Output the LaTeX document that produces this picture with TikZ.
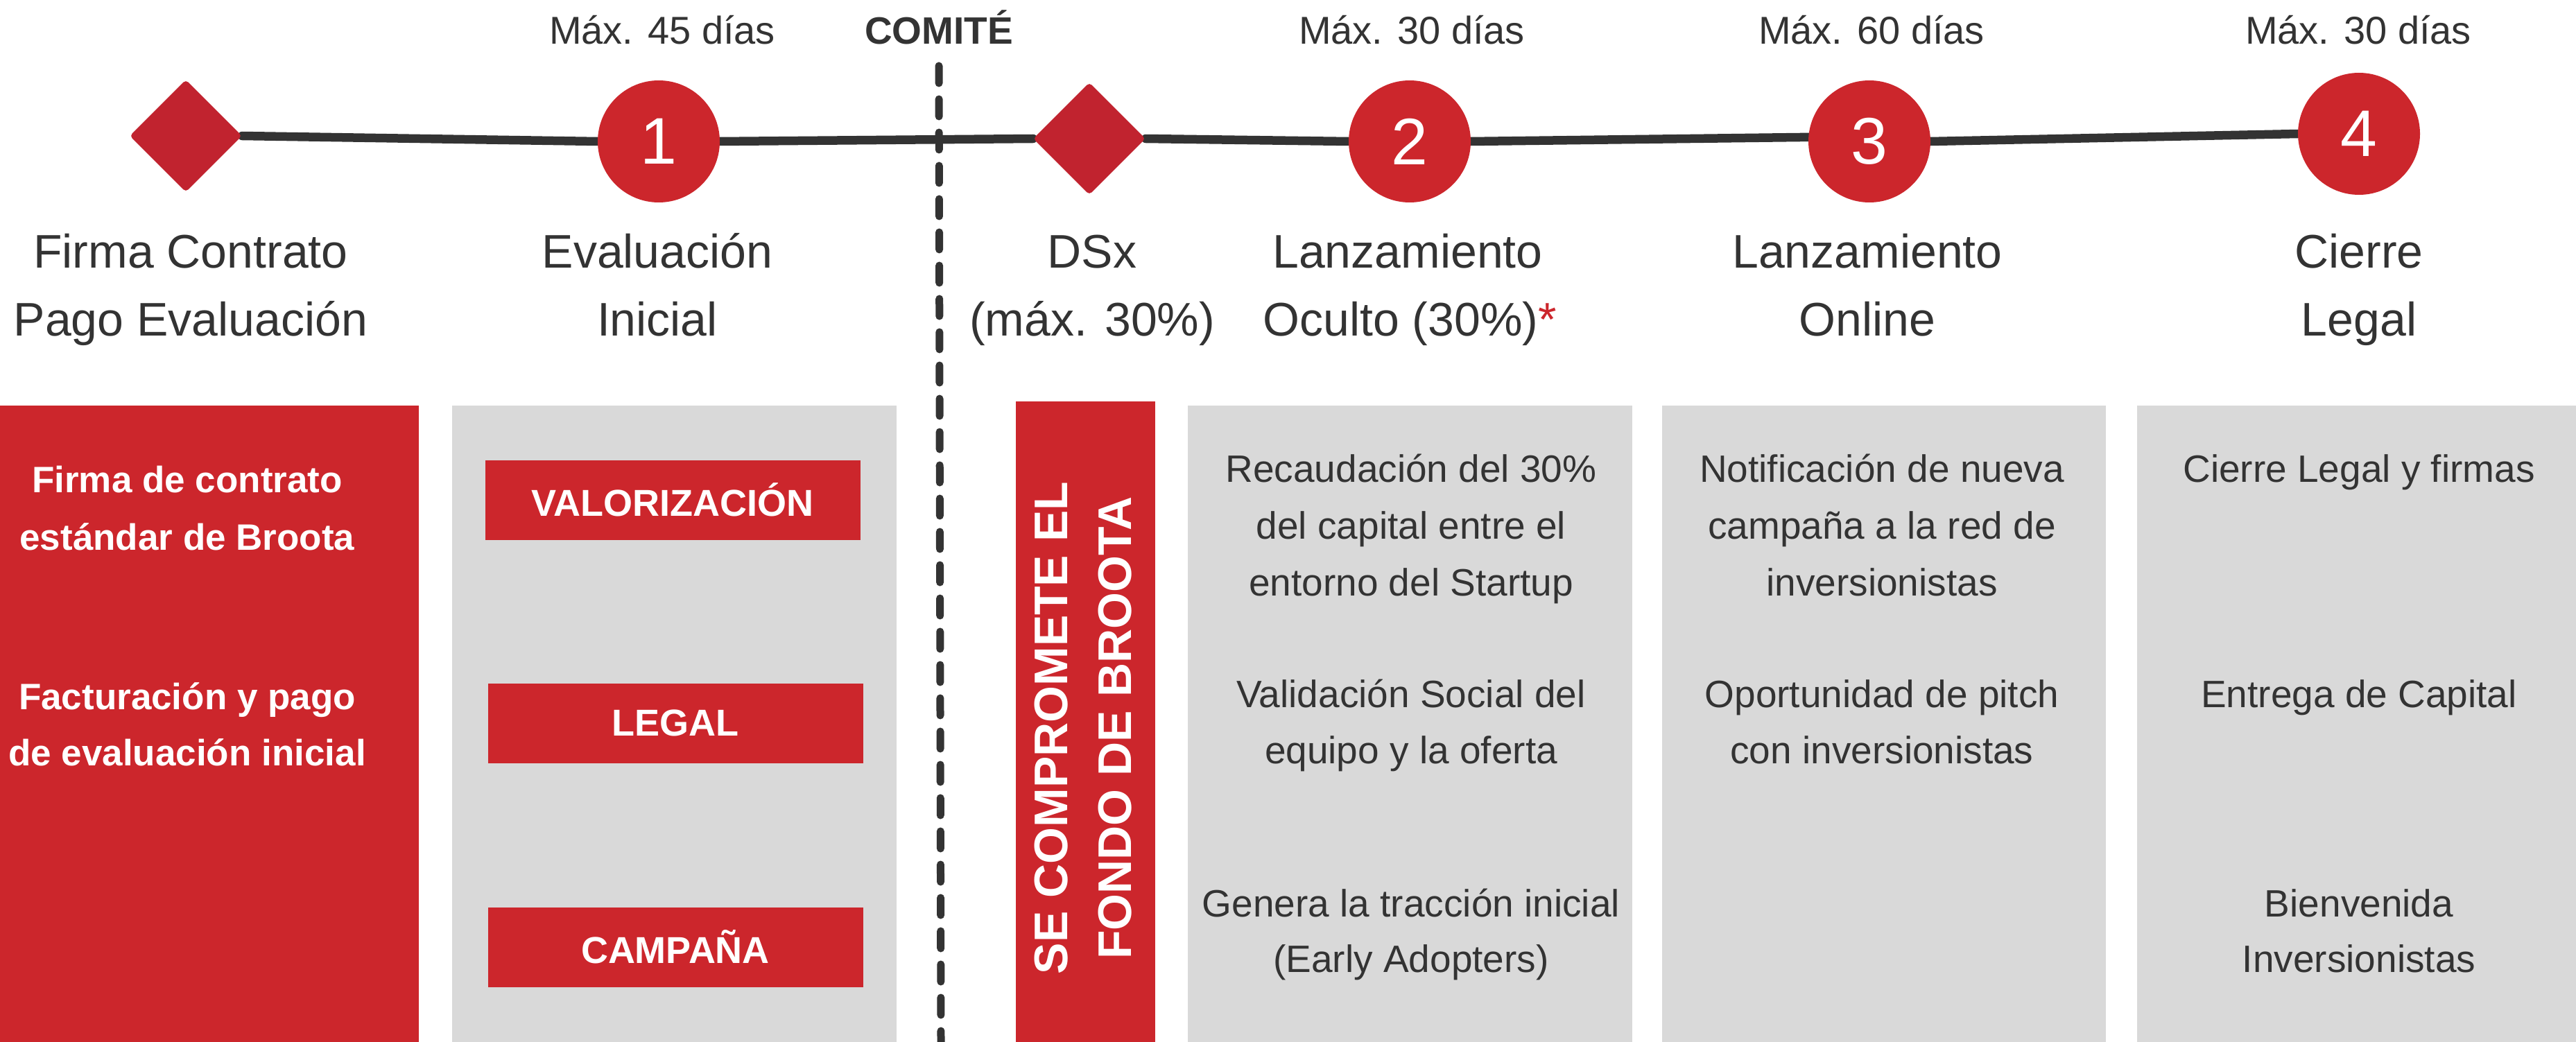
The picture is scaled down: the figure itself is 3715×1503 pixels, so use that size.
\documentclass[tikz,border=0pt]{standalone}
\usepackage{fontspec}
\setmainfont{Liberation Sans}
\usetikzlibrary{shapes.geometric,backgrounds}
\definecolor{bred}{HTML}{CC262C}
\definecolor{dred}{HTML}{C1232F}
\definecolor{pgray}{HTML}{D9D9D9}
\definecolor{ink}{HTML}{333333}
\begin{document}
\begin{tikzpicture}[x=1pt,y=-1pt,
  dia/.style={diamond, fill=dred, minimum width=162pt, minimum height=162pt, inner sep=0pt, rounded corners=5pt},
  stepc/.style={circle, fill=bred, minimum size=176pt, inner sep=0pt, text=white, font=\fontsize{95}{95}\selectfont},
  tl/.style={draw=ink, line width=12.5pt, line cap=round},
  days/.style={anchor=base, inner sep=0pt, text=ink, font=\fontsize{56}{56}\selectfont},
  head/.style={anchor=base, inner sep=0pt, text=ink, font=\fontsize{68}{68}\selectfont},
  body/.style={anchor=base, inner sep=0pt, text=ink, font=\fontsize{55}{55}\selectfont},
  wbold/.style={anchor=base, inner sep=0pt, text=white, font=\fontsize{53}{53}\selectfont\bfseries},
  tag/.style={fill=bred, text=white, font=\fontsize{54}{54}\selectfont\bfseries, minimum width=541pt, minimum height=115pt, inner sep=0pt},
  panel/.style={fill=pgray},
  redpanel/.style={fill=bred}]
\useasboundingbox (0,0) rectangle (3715,1503);

% panels
\fill[redpanel] (0,585) rectangle (604,1503);
\fill[panel] (652,585) rectangle (1293,1503);
\fill[redpanel] (1465,579) rectangle (1666,1503);
\fill[panel] (1713,585) rectangle (2354,1503);
\fill[panel] (2397,585) rectangle (3037,1503);
\fill[panel] (3082,585) rectangle (3715,1503);

% timeline nodes
\node[dia] (d1) at (268,196) {};
\node[stepc] (c1) at (950,204) {1};
\node[dia] (d2) at (1571,200) {};
\node[stepc] (c2) at (2033,204) {2};
\node[stepc] (c3) at (2696,204) {3};
\node[stepc] (c4) at (3402,193) {4};

% committee divider
\coordinate (dvt) at (1354,95);
\coordinate (dvb) at (1357,1503);
\begin{scope}[on background layer]
\draw[tl] (d1.east) -- (c1.west);
\draw[tl] (c1.east) -- (d2.west);
\draw[tl] (d2.east) -- (c2.west);
\draw[tl] (c2.east) -- (c3.176);
\draw[tl] (c3.east) -- (c4.west);
\end{scope}
\draw[draw=ink, line width=11pt, line cap=round, dash pattern=on 25pt off 23pt] (dvt) -- (dvb);

% top labels
\node[days] (m1) at (955,64) {Máx. 45 días};
\node[days, font=\fontsize{55}{55}\selectfont\bfseries] (com) at (1354,64) {COMITÉ};
\node[days] (m2) at (2036,64) {Máx. 30 días};
\node[days] (m3) at (2699,64) {Máx. 60 días};
\node[days] (m4) at (3401,64) {Máx. 30 días};

% headings
\node[head] (h1a) at (275,387) {Firma Contrato};
\node[head] (h1b) at (275,484) {Pago Evaluación};
\node[head] (h2a) at (948,387) {Evaluación};
\node[head] (h2b) at (948,484) {Inicial};
\node[head] (h3a) at (1575,387) {DSx};
\node[head] (h3b) at (1575,484) {(máx. 30\%)};
\node[head] (h4a) at (2030,387) {Lanzamiento};
\node[head] (h4b) at (2033,484) {Oculto (30\%)\textcolor{bred}{*}};
\node[head] (h5a) at (2693,387) {Lanzamiento};
\node[head] (h5b) at (2693,484) {Online};
\node[head] (h6a) at (3402,387) {Cierre};
\node[head] (h6b) at (3402,484) {Legal};

% red panel text
\node[wbold] (r1a) at (270,710) {Firma de contrato};
\node[wbold] (r1b) at (270,793) {estándar de Broota};
\node[wbold] (r2a) at (270,1023) {Facturación y pago};
\node[wbold] (r2b) at (270,1104) {de evaluación inicial};

% tags
\node[tag] (t1) at (970,721) {VALORIZACIÓN};
\node[tag] (t2) at (974,1043) {LEGAL};
\node[tag] (t3) at (974,1366) {CAMPAÑA};

% vertical text
\node[rotate=90, align=center, text=white, inner sep=0pt, font=\fontsize{68}{92}\selectfont\bfseries] (vt) at (1562,1050) {SE COMPROMETE EL\\FONDO DE BROOTA};

% panel 2
\node[body] (p2a) at (2035,695) {Recaudación del 30\%};
\node[body] (p2b) at (2035,777) {del capital entre el};
\node[body] (p2c) at (2035,859) {entorno del Startup};
\node[body] (p2d) at (2035,1020) {Validación Social del};
\node[body] (p2e) at (2035,1101) {equipo y la oferta};
\node[body] (p2f) at (2035,1322) {Genera la tracción inicial};
\node[body] (p2g) at (2035,1402) {(Early Adopters)};

% panel 3
\node[body] (p3a) at (2714,695) {Notificación de nueva};
\node[body] (p3b) at (2714,777) {campaña a la red de};
\node[body] (p3c) at (2714,859) {inversionistas};
\node[body] (p3d) at (2714,1020) {Oportunidad de pitch};
\node[body] (p3e) at (2714,1101) {con inversionistas};

% panel 4
\node[body] (p4a) at (3402,695) {Cierre Legal y firmas};
\node[body] (p4b) at (3402,1020) {Entrega de Capital};
\node[body] (p4c) at (3402,1322) {Bienvenida};
\node[body] (p4d) at (3402,1402) {Inversionistas};
\end{tikzpicture}
\end{document}
